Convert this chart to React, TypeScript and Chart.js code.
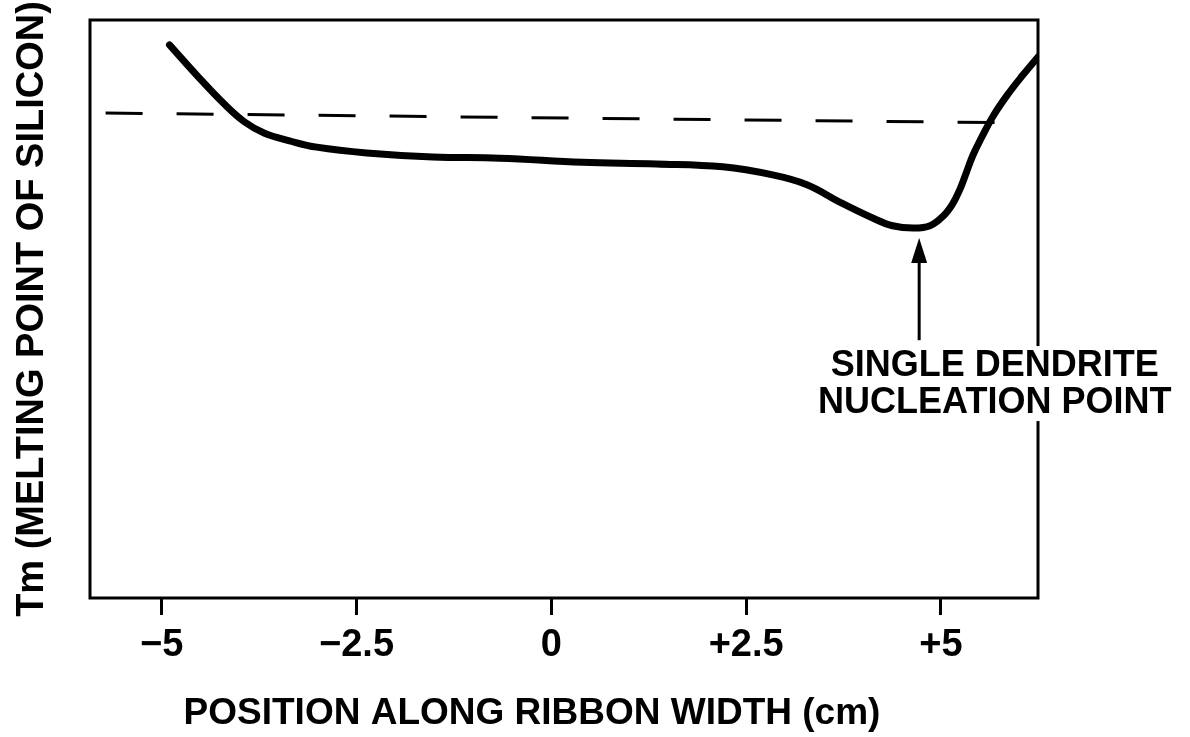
import React, { useEffect, useRef } from "react";
import { Chart, registerables } from "chart.js";

Chart.register(...registerables);

// Curve: Tm profile along ribbon width (x in cm, y in arbitrary units, 0..100)
const positionCm: number[] = [-4.9, -4.54, -4.2, -3.94, -3.68, -3.36, -3.01, -2.37, -1.52, -0.66, 0.4, 1.35, 2.2, 2.84, 3.28, 3.7, 4.13, 4.38, 4.64, 4.86, 5.03, 5.15, 5.24, 5.32, 5.41, 5.53, 5.67, 5.85, 6.04, 6.245];
const temperature: number[] = [95.7, 90.3, 85.5, 82.4, 80.4, 79.1, 78.0, 77.0, 76.3, 76.1, 75.4, 75.1, 74.6, 73.2, 71.5, 68.5, 65.7, 64.4, 64.0, 64.4, 66.1, 68.2, 70.6, 73.4, 76.6, 79.9, 83.4, 87.0, 90.3, 93.6];

// Dashed melting point line
const meltX: number[] = [-5.72, 6.0];
const meltY: number[] = [83.9, 82.2];

// Tick positions and labels
const tickValues: number[] = [-5, -2.5, 0, 2.5, 5];
const tickLabels: string[] = ["\u22125", "\u22122.5", "0", "+2.5", "+5"];

// Annotation
const arrowX = 4.72;
const arrowFromY = 44.6;
const arrowToY = 62.3;
const annotationLines: string[] = ["SINGLE DENDRITE", "NUCLEATION POINT"];
const annotationX = 5.69;
const annotationY: number[] = [40.3, 33.9];

const xTitle = "POSITION ALONG RIBBON WIDTH (cm)";
const yTitle = "Tm (MELTING POINT OF SILICON)";

const FONT = "'Liberation Sans', Arial, Helvetica, sans-serif";

const decorPlugin = {
  id: "decor",
  beforeDatasetsDraw(chart: any) {
    const { ctx, chartArea } = chart;
    ctx.save();
    ctx.strokeStyle = "#000";
    ctx.lineWidth = 3;
    ctx.strokeRect(chartArea.left, chartArea.top, chartArea.right - chartArea.left, chartArea.bottom - chartArea.top);
    ctx.restore();
  },
  afterDatasetsDraw(chart: any) {
    const { ctx } = chart;
    const xs = chart.scales.x;
    const ys = chart.scales.y;
    ctx.save();
    // arrow
    const ax = xs.getPixelForValue(arrowX);
    const y0 = ys.getPixelForValue(arrowFromY);
    const y1 = ys.getPixelForValue(arrowToY);
    ctx.strokeStyle = "#000";
    ctx.fillStyle = "#000";
    ctx.lineWidth = 3;
    ctx.beginPath();
    ctx.moveTo(ax, y0);
    ctx.lineTo(ax, y1 + 20);
    ctx.stroke();
    ctx.beginPath();
    ctx.moveTo(ax, y1);
    ctx.lineTo(ax - 8, y1 + 25);
    ctx.lineTo(ax + 8, y1 + 25);
    ctx.closePath();
    ctx.fill();

    // annotation text with white background
    ctx.font = `bold 36px ${FONT}`;
    ctx.textAlign = "center";
    ctx.textBaseline = "middle";
    const tx = xs.getPixelForValue(annotationX);
    annotationLines.forEach((line, i) => {
      const ty = ys.getPixelForValue(annotationY[i]);
      const w = ctx.measureText(line).width;
      ctx.fillStyle = "#fff";
      ctx.fillRect(tx - w / 2 - 4, ty - 19, w + 8, 38);
    });
    ctx.fillStyle = "#000";
    annotationLines.forEach((line, i) => {
      const ty = ys.getPixelForValue(annotationY[i]);
      ctx.fillText(line, tx, ty + 1);
    });

    // x axis title
    ctx.font = `bold 37px ${FONT}`;
    ctx.fillText(xTitle, 532, 714);
    ctx.restore();
  },
};

export default function App() {
  const canvasRef = useRef<HTMLCanvasElement | null>(null);

  useEffect(() => {
    const canvas = canvasRef.current;
    if (!canvas) return;
    const chart = new Chart(canvas, {
      type: "line",
      data: {
        datasets: [
          {
            label: "Tm",
            data: positionCm.map((x, i) => ({ x, y: temperature[i] })),
            borderColor: "#000",
            borderWidth: 7,
            pointRadius: 0,
            tension: 0.4,
            fill: false,
            borderCapStyle: "round",
            borderJoinStyle: "round",
          },
          {
            label: "melting point",
            data: meltX.map((x, i) => ({ x, y: meltY[i] })),
            borderColor: "#000",
            borderWidth: 3,
            borderDash: [37, 34],
            pointRadius: 0,
            fill: false,
          },
        ],
      },
      options: {
        animation: false,
        responsive: false,
        maintainAspectRatio: false,
        layout: { padding: { top: 20, right: 152, left: 0, bottom: 0 } },
        plugins: {
          legend: { display: false },
          tooltip: { enabled: false },
        },
        scales: {
          x: {
            type: "linear",
            min: -5.92,
            max: 6.245,
            border: { display: false },
            grid: {
              display: true,
              drawOnChartArea: false,
              drawTicks: true,
              tickLength: 17,
              tickWidth: 3,
              tickColor: "#000",
            },
            afterBuildTicks: (scale: any) => {
              scale.ticks = tickValues.map((v) => ({ value: v }));
            },
            afterFit: (scale: any) => {
              scale.height = 139;
            },
            ticks: {
              color: "#000",
              padding: 8,
              font: { family: FONT, size: 38, weight: "bold" },
              maxRotation: 0,
              autoSkip: false,
              callback: (value: any) => {
                const idx = tickValues.indexOf(Number(value));
                return idx >= 0 ? tickLabels[idx] : "";
              },
            },
          },
          y: {
            type: "linear",
            min: 0,
            max: 100,
            border: { display: false },
            grid: { display: false },
            ticks: { display: false },
            afterFit: (scale: any) => {
              scale.width = 90;
            },
            title: {
              display: true,
              text: yTitle,
              color: "#000",
              font: { family: FONT, size: 38, weight: "bold" },
              padding: { top: 10, bottom: 0 },
            },
          },
        },
      },
      plugins: [decorPlugin],
    } as any);
    return () => chart.destroy();
  }, []);

  return (
    <div style={{ position: "fixed", left: 0, top: 0, width: 1190, height: 737, background: "#fff" }}>
      <canvas ref={canvasRef} width={1190} height={737} style={{ display: "block" }} />
    </div>
  );
}
